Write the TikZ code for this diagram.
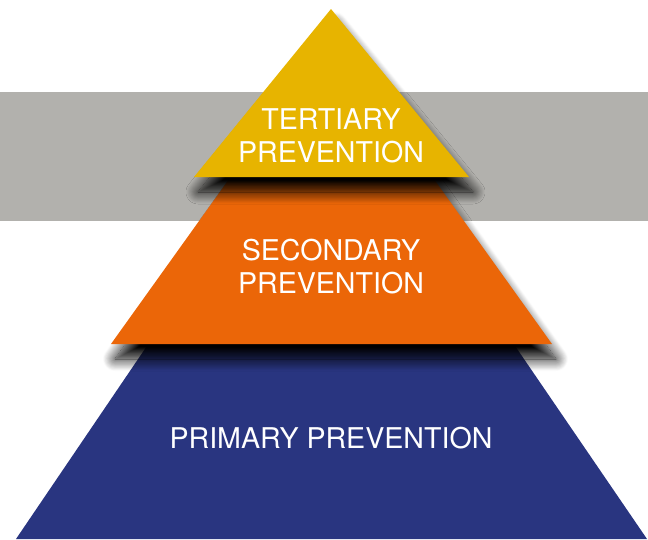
\documentclass[tikz,border=0pt]{standalone}
\usepackage{fontspec}
\setmainfont{TeX Gyre Heros}
\usetikzlibrary{shadows.blur}
\definecolor{band}{RGB}{178, 177, 173}
\definecolor{tertiary}{RGB}{231, 180, 0}
\definecolor{secondary}{RGB}{235, 102, 8}
\definecolor{primary}{RGB}{41, 53, 128}

\begin{document}
\begin{tikzpicture}[
    x=1pt, y=-1pt,
    % Global styles
    font=\fontsize{28.6}{32.5}\selectfont,
    % Layer styles
    layer/.style={
        draw=none
    },
    shade/.style={
        blur shadow={shadow xshift=4pt, shadow yshift=-15pt,
                     shadow blur radius=12pt, shadow blur steps=16,
                     shadow opacity=100}
    },
    caption/.style={
        text=white,
        align=center,
        anchor=base,
        inner sep=0pt
    }
]

\useasboundingbox (0,0) rectangle (648,539);

% --- Background band ---
\fill [band] (0,92) rectangle (648,221);

% --- Levels ---

% Primary
\fill [layer, primary] (16,539) -- (151,340) -- (511,340) -- (647,539) -- cycle;

% Secondary
\fill [layer, secondary, shade] (111,344) -- (232,175) -- (431,175) -- (552,344) -- cycle;

% Tertiary
\fill [layer, tertiary, shade] (194,177) -- (331,9) -- (469,177) -- cycle;

% --- Labels ---
% (base anchor sits on the last line)
\node (tert_label) [caption] at (331,162) {TERTIARY\\PREVENTION};
\node (sec_label) [caption] at (331,293) {SECONDARY\\PREVENTION};
\node (prim_label) [caption] at (331,448) {PRIMARY PREVENTION};

\end{tikzpicture}
\end{document}
